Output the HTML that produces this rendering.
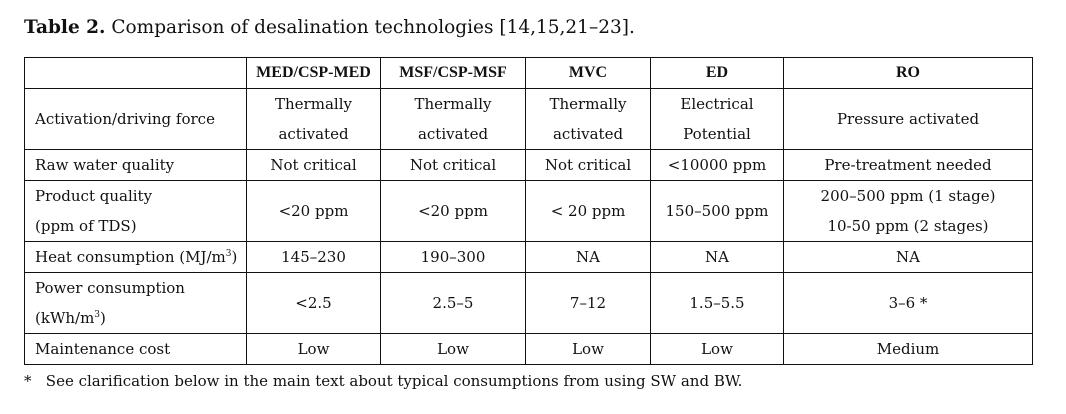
<!DOCTYPE html>
<html><head><style>
body{margin:0;width:1066px;height:414px;background:#fff;font-family:"DejaVu Serif","Liberation Serif",serif;color:#111;position:relative;overflow:hidden}
.t{position:absolute;left:24px;top:17px;font-size:18.5px;white-space:nowrap}
table{position:absolute;left:24px;top:57px;border-collapse:collapse;table-layout:fixed;font-size:15px}
td{border:1.3px solid #111;padding:0;text-align:center;line-height:30px;vertical-align:middle;white-space:nowrap}
td.l{text-align:left;padding-left:10px}
th{border:1.3px solid #111;font-weight:bold;height:30px;padding:0;font-size:16px;font-family:"Liberation Serif",serif}
.f{position:absolute;left:24px;top:372px;font-size:15px;white-space:nowrap}
sup{font-size:9px;vertical-align:super;line-height:0}
</style></head><body>
<div class="t"><b>Table 2.</b> Comparison of desalination technologies [14,15,21–23].</div>
<table>
<colgroup><col style="width:222px"><col style="width:134px"><col style="width:145px"><col style="width:125px"><col style="width:133px"><col style="width:249px"></colgroup>
<tr style="height:31px"><th></th><th>MED/CSP-MED</th><th>MSF/CSP-MSF</th><th>MVC</th><th>ED</th><th>RO</th></tr>
<tr style="height:61px"><td class="l">Activation/driving force</td><td>Thermally<br>activated</td><td>Thermally<br>activated</td><td>Thermally<br>activated</td><td>Electrical<br>Potential</td><td>Pressure activated</td></tr>
<tr style="height:31px"><td class="l">Raw water quality</td><td>Not critical</td><td>Not critical</td><td>Not critical</td><td>&lt;10000 ppm</td><td>Pre-treatment needed</td></tr>
<tr style="height:61px"><td class="l">Product quality<br>(ppm of TDS)</td><td>&lt;20 ppm</td><td>&lt;20 ppm</td><td>&lt; 20 ppm</td><td>150–500 ppm</td><td>200–500 ppm (1 stage)<br>10-50 ppm (2 stages)</td></tr>
<tr style="height:31px"><td class="l">Heat consumption (MJ/m<sup>3</sup>)</td><td>145–230</td><td>190–300</td><td>NA</td><td>NA</td><td>NA</td></tr>
<tr style="height:61px"><td class="l">Power consumption<br>(kWh/m<sup>3</sup>)</td><td>&lt;2.5</td><td>2.5–5</td><td>7–12</td><td>1.5–5.5</td><td>3–6 *</td></tr>
<tr style="height:31px"><td class="l">Maintenance cost</td><td>Low</td><td>Low</td><td>Low</td><td>Low</td><td>Medium</td></tr>
</table>
<div class="f">*&nbsp;&nbsp;&nbsp;See clarification below in the main text about typical consumptions from using SW and BW.</div>
</body></html>
